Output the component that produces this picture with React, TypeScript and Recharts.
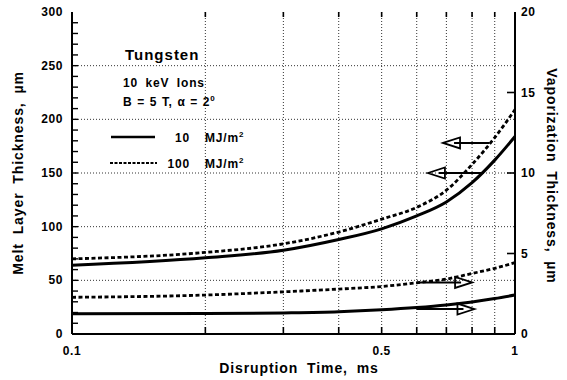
import {
    ComposedChart,
    Legend,
    Line,
    ReferenceLine,
    XAxis,
    YAxis,
} from "recharts";

// disruption time, ms
const TIMES = [0.1, 0.2, 0.3, 0.4, 0.5, 0.6, 0.7, 0.8, 0.9, 1.0];
// melt layer thickness, um (left axis)
const MELT_10 = [64, 71, 78, 88, 98, 110, 123, 141, 162, 184];
const MELT_100 = [70, 76, 84, 95, 107, 118, 134, 158, 183, 209];
// vaporization thickness, um (right axis)
const VAP_10 = [1.25, 1.27, 1.31, 1.38, 1.5, 1.64, 1.8, 1.99, 2.2, 2.42];
const VAP_100 = [2.28, 2.42, 2.62, 2.79, 2.95, 3.18, 3.41, 3.76, 4.08, 4.43];

const X_TICKS = [0.1, 0.2, 0.3, 0.4, 0.5, 0.6, 0.7, 0.8, 0.9, 1];
const X_LABELS = [0.1, 0.5, 1];
const GRID_X = [0.2, 0.3, 0.4, 0.5, 0.6, 0.7, 0.8, 0.9];
const LEFT_LABELS = [0, 50, 100, 150, 200, 250, 300];
const GRID_Y = [50, 100, 150, 200, 250];
const RIGHT_TICKS = [0, 5, 10, 15, 20];

// arrows point to the axis each curve pair belongs to
const ARROWS_LEFT = [
    { y: 178, from: 0.875, to: 0.688 },
    { y: 150, from: 0.85, to: 0.636 },
];
const ARROWS_RIGHT = [
    { y: 3.2, from: 0.6, to: 0.8 },
    { y: 1.55, from: 0.6, to: 0.81 },
];

const SERIES_NAMES = ["10", "100"];

const leftMinor: number[] = [];
for (let v = 10; v < 300; v += 10) leftMinor.push(v);

const data = TIMES.map((t, i) => ({
    t,
    melt10: MELT_10[i],
    melt100: MELT_100[i],
    vap10: VAP_10[i],
    vap100: VAP_100[i],
}));

const FONT = "'Liberation Sans', Arial, Helvetica, sans-serif";
const txt = { fontFamily: FONT, fontWeight: 700, fill: "#000" } as const;

const BottomTick = (props: any) => {
    const x = Number(props.x);
    const y = Number(props.y);
    const v = props.payload.value;
    if (!X_LABELS.includes(v)) return <g />;
    return (
        <text x={x} y={y + 21} textAnchor="middle" fontSize={12} letterSpacing={0.6} {...txt}>
            {v}
        </text>
    );
};

const LeftTick = (props: any) => {
    const x = Number(props.x);
    const y = Number(props.y);
    return (
        <text x={x - 9} y={y + 4} textAnchor="end" fontSize={12} letterSpacing={0.6} {...txt}>
            {props.payload.value}
        </text>
    );
};

const RightTick = (props: any) => {
    const x = Number(props.x);
    const y = Number(props.y);
    return (
        <text x={x + 6} y={y + 4} textAnchor="start" fontSize={12} letterSpacing={0.6} {...txt}>
            {props.payload.value}
        </text>
    );
};

// inward tick marks drawn at the frame edges of a reference line
const xTickShape = (props: any) => {
    const x = Number(props.x1);
    const top = Math.min(Number(props.y1), Number(props.y2));
    const bottom = Math.max(Number(props.y1), Number(props.y2));
    return (
        <g>
            <line x1={x} y1={bottom} x2={x} y2={bottom - 7} stroke="#000" strokeWidth={1.6} />
            <line x1={x} y1={top} x2={x} y2={top + 5} stroke="#000" strokeWidth={1.6} />
        </g>
    );
};

const leftTickShape = (props: any) => {
    const left = Math.min(Number(props.x1), Number(props.x2));
    const y = Number(props.y1);
    return <line x1={left} y1={y} x2={left + 6} y2={y} stroke="#000" strokeWidth={1.4} />;
};

const rightTickShape = (props: any) => {
    const right = Math.max(Number(props.x1), Number(props.x2));
    const y = Number(props.y1);
    return <line x1={right} y1={y} x2={right - 8} y2={y} stroke="#000" strokeWidth={1.6} />;
};

const arrowShape = (props: any) => {
    const { x1, y1, x2, y2 } = props;
    const dir = x2 > x1 ? 1 : -1;
    const len = 17;
    const half = 5.5;
    const bx = x2 - dir * len;
    return (
        <g>
            <line x1={x1} y1={y1} x2={bx + dir * 6} y2={y2} stroke="#000" strokeWidth={2} />
            <polygon
                points={`${x2},${y2} ${bx},${y2 - half} ${bx},${y2 + half}`}
                fill="none"
                stroke="#000"
                strokeWidth={1.8}
            />
        </g>
    );
};

const LegendBox = () => (
    <svg width={567} height={380} style={{ position: "absolute", left: 0, top: 0, overflow: "visible" }}>
        <text x={125} y={60} fontSize={15} letterSpacing={1} {...txt}>
            Tungsten
        </text>
        <text x={123} y={87} fontSize={12} letterSpacing={0.9} wordSpacing={3} {...txt}>
            10 keV Ions
        </text>
        <text x={123} y={106} fontSize={12} letterSpacing={0.6} wordSpacing={1} {...txt}>
            B = 5 T, α = 2<tspan dy={-5} fontSize={8}>0</tspan>
        </text>
        <line x1={111} y1={137} x2={155} y2={137} stroke="#000" strokeWidth={2.5} />
        <text x={190} y={142} textAnchor="end" fontSize={12} letterSpacing={0.8} {...txt}>
            {SERIES_NAMES[0]}
        </text>
        <text x={205} y={142} fontSize={12} letterSpacing={0.8} {...txt}>
            MJ/m<tspan dy={-5} fontSize={8}>2</tspan>
        </text>
        <line x1={110} y1={163} x2={157} y2={163} stroke="#000" strokeWidth={2} strokeDasharray="3 1.5" />
        <text x={190} y={168} textAnchor="end" fontSize={12} letterSpacing={0.8} {...txt}>
            {SERIES_NAMES[1]}
        </text>
        <text x={205} y={168} fontSize={12} letterSpacing={0.8} {...txt}>
            MJ/m<tspan dy={-5} fontSize={8}>2</tspan>
        </text>
    </svg>
);

const gridStyle = { stroke: "#333", strokeDasharray: "1 2", strokeWidth: 1 };

const App = () => {
    return (
        <div style={{ position: "absolute", left: 0, top: 0, background: "#fff" }}>
            <ComposedChart
                width={567}
                height={380}
                data={data}
                margin={{ top: 12, right: 0, bottom: 0, left: 0 }}
            >
                <XAxis
                    xAxisId="bottom"
                    dataKey="t"
                    type="number"
                    scale="log"
                    domain={[0.1, 1]}
                    ticks={X_TICKS}
                    interval={0}
                    height={46}
                    tickSize={0}
                    tickMargin={0}
                    tickLine={false}
                    tick={(p: any) => <BottomTick {...p} />}
                    axisLine={{ stroke: "#000", strokeWidth: 2 }}
                    label={{
                        content: (p: any) => {
                            const vb = p.viewBox;
                            return (
                                <text
                                    x={vb.x + 227}
                                    y={vb.y + 39}
                                    textAnchor="middle"
                                    fontSize={14}
                                    letterSpacing={0.9}
                                    wordSpacing={4}
                                    {...txt}
                                >
                                    Disruption Time, ms
                                </text>
                            );
                        },
                    }}
                />
                <XAxis
                    xAxisId="top"
                    orientation="top"
                    dataKey="t"
                    type="number"
                    scale="log"
                    domain={[0.1, 1]}
                    ticks={GRID_X}
                    height={0}
                    tick={false}
                    tickLine={false}
                    axisLine={{ stroke: "#000", strokeWidth: 1.5 }}
                />
                <YAxis
                    yAxisId="left"
                    type="number"
                    domain={[0, 300]}
                    ticks={LEFT_LABELS}
                    interval={0}
                    width={72}
                    tickSize={0}
                    tickMargin={0}
                    tickLine={false}
                    tick={(p: any) => <LeftTick {...p} />}
                    axisLine={{ stroke: "#000", strokeWidth: 2 }}
                    label={{
                        content: (p: any) => {
                            const vb = p.viewBox;
                            const cx = vb.x + 18;
                            const cy = vb.y + vb.height / 2;
                            return (
                                <text
                                    x={cx}
                                    y={cy}
                                    transform={`rotate(-90 ${cx} ${cy})`}
                                    textAnchor="middle"
                                    dominantBaseline="central"
                                    fontSize={14}
                                    letterSpacing={0.9}
                                    wordSpacing={4}
                                    {...txt}
                                >
                                    Melt Layer Thickness, µm
                                </text>
                            );
                        },
                    }}
                />
                <YAxis
                    yAxisId="right"
                    orientation="right"
                    type="number"
                    domain={[0, 20]}
                    ticks={RIGHT_TICKS}
                    interval={0}
                    width={52}
                    tickSize={0}
                    tickMargin={0}
                    tickLine={false}
                    tick={(p: any) => <RightTick {...p} />}
                    axisLine={{ stroke: "#000", strokeWidth: 2 }}
                    label={{
                        content: (p: any) => {
                            const vb = p.viewBox;
                            const cx = vb.x + 37;
                            const cy = vb.y + vb.height / 2 + 3;
                            return (
                                <text
                                    x={cx}
                                    y={cy}
                                    transform={`rotate(90 ${cx} ${cy})`}
                                    textAnchor="middle"
                                    dominantBaseline="central"
                                    fontSize={14}
                                    letterSpacing={0.9}
                                    wordSpacing={4}
                                    {...txt}
                                >
                                    Vaporization Thickness, µm
                                </text>
                            );
                        },
                    }}
                />
                {GRID_X.map((v) => (
                    <ReferenceLine key={`gx-${v}`} xAxisId="bottom" yAxisId="left" x={v} {...gridStyle} />
                ))}
                {GRID_Y.map((v) => (
                    <ReferenceLine key={`gy-${v}`} xAxisId="bottom" yAxisId="left" y={v} {...gridStyle} />
                ))}
                {GRID_X.map((v) => (
                    <ReferenceLine key={`tx-${v}`} xAxisId="bottom" yAxisId="left" x={v} shape={xTickShape} />
                ))}
                {leftMinor.map((v) => (
                    <ReferenceLine key={`tl-${v}`} xAxisId="bottom" yAxisId="left" y={v} shape={leftTickShape} />
                ))}
                {RIGHT_TICKS.slice(1, -1).map((v) => (
                    <ReferenceLine key={`tr-${v}`} xAxisId="bottom" yAxisId="right" y={v} shape={rightTickShape} />
                ))}
                <Line
                    xAxisId="bottom"
                    yAxisId="left"
                    dataKey="melt10"
                    name={SERIES_NAMES[0]}
                    type="monotone"
                    stroke="#000"
                    strokeWidth={3}
                    dot={false}
                    isAnimationActive={false}
                />
                <Line
                    xAxisId="bottom"
                    yAxisId="left"
                    dataKey="melt100"
                    name={SERIES_NAMES[1]}
                    type="monotone"
                    stroke="#000"
                    strokeWidth={2.8}
                    strokeDasharray="4 2.5"
                    dot={false}
                    isAnimationActive={false}
                />
                <Line
                    xAxisId="bottom"
                    yAxisId="right"
                    dataKey="vap10"
                    name={SERIES_NAMES[0]}
                    type="monotone"
                    stroke="#000"
                    strokeWidth={3}
                    dot={false}
                    isAnimationActive={false}
                />
                <Line
                    xAxisId="bottom"
                    yAxisId="right"
                    dataKey="vap100"
                    name={SERIES_NAMES[1]}
                    type="monotone"
                    stroke="#000"
                    strokeWidth={2.8}
                    strokeDasharray="4 2.5"
                    dot={false}
                    isAnimationActive={false}
                />
                {ARROWS_LEFT.map((a, i) => (
                    <ReferenceLine
                        key={`al-${i}`}
                        xAxisId="bottom"
                        yAxisId="left"
                        segment={[
                            { x: a.from, y: a.y },
                            { x: a.to, y: a.y },
                        ]}
                        shape={arrowShape}
                    />
                ))}
                {ARROWS_RIGHT.map((a, i) => (
                    <ReferenceLine
                        key={`ar-${i}`}
                        xAxisId="bottom"
                        yAxisId="right"
                        segment={[
                            { x: a.from, y: a.y },
                            { x: a.to, y: a.y },
                        ]}
                        shape={arrowShape}
                    />
                ))}
                <Legend
                    layout="horizontal"
                    verticalAlign="middle"
                    align="center"
                    wrapperStyle={{ left: 0, top: 0, width: 567, height: 380, pointerEvents: "none" }}
                    content={() => <LegendBox />}
                />
            </ComposedChart>
        </div>
    );
};

export default App;
